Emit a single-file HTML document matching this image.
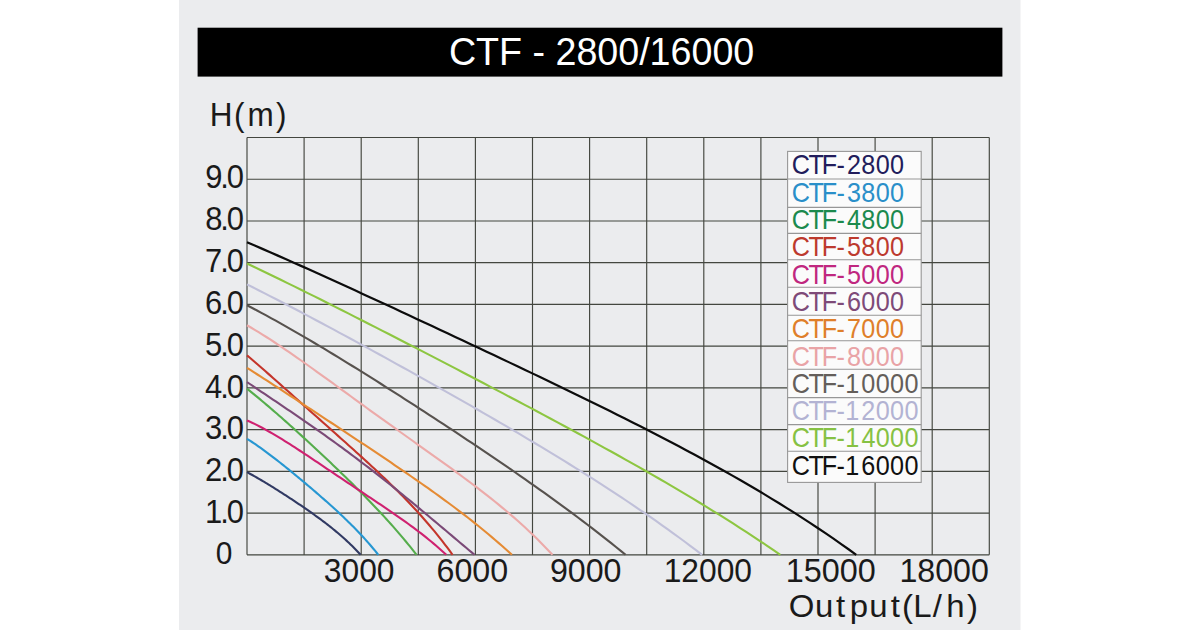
<!DOCTYPE html>
<html><head><meta charset="utf-8"><title>CTF - 2800/16000</title>
<style>
html,body{margin:0;padding:0;background:#fff;}
body{width:1200px;height:630px;overflow:hidden;}
svg{display:block;}
text{font-family:"Liberation Sans",Arial,sans-serif;}
</style></head>
<body>
<svg width="1200" height="630" viewBox="0 0 1200 630">
<rect x="0" y="0" width="1200" height="630" fill="#ffffff"/>
<rect x="179" y="0" width="841.5" height="630" fill="#ebecee"/>
<rect x="197.6" y="27.7" width="804.8" height="48.9" fill="#000000"/>
<text x="448.89" y="65.00" font-size="38.50" fill="#ffffff" textLength="305.38" lengthAdjust="spacingAndGlyphs">CTF - 2800/16000</text>
<text x="216.25 241.33 255.12 284.55" y="126.30" font-size="32.50" fill="#1a1a1a" transform="scale(0.9700,1)">H(m)</text>
<text x="765.81 791.29 811.76 825.09 843.89 864.80 875.81 886.63 905.70 918.75 938.87" y="617.30" font-size="32.00" fill="#1a1a1a" transform="scale(1.0300,1)">Output(L/h)</text>
<text x="215.94 231.73 238.78" y="188.40" font-size="32.60" fill="#1a1a1a" transform="scale(0.9500,1)">9.0</text>
<text x="216.09 231.73 238.78" y="230.00" font-size="32.60" fill="#1a1a1a" transform="scale(0.9500,1)">8.0</text>
<text x="215.87 231.73 238.78" y="272.30" font-size="32.60" fill="#1a1a1a" transform="scale(0.9500,1)">7.0</text>
<text x="215.77 231.73 238.78" y="314.20" font-size="32.60" fill="#1a1a1a" transform="scale(0.9500,1)">6.0</text>
<text x="215.91 231.73 238.78" y="355.80" font-size="32.60" fill="#1a1a1a" transform="scale(0.9500,1)">5.0</text>
<text x="215.83 231.73 238.78" y="397.90" font-size="32.60" fill="#1a1a1a" transform="scale(0.9500,1)">4.0</text>
<text x="215.82 231.73 238.78" y="438.80" font-size="32.60" fill="#1a1a1a" transform="scale(0.9500,1)">3.0</text>
<text x="215.88 231.73 238.78" y="480.90" font-size="32.60" fill="#1a1a1a" transform="scale(0.9500,1)">2.0</text>
<text x="215.91 231.73 238.78" y="522.80" font-size="32.60" fill="#1a1a1a" transform="scale(0.9500,1)">1.0</text>
<text x="227.03" y="564.50" font-size="31.50" fill="#1a1a1a" transform="scale(0.9500,1)">0</text>
<text x="323.79" y="581.80" font-size="32.60" fill="#1a1a1a" textLength="70.75" lengthAdjust="spacingAndGlyphs">3000</text>
<text x="436.46" y="581.80" font-size="32.60" fill="#1a1a1a" textLength="71.70" lengthAdjust="spacingAndGlyphs">6000</text>
<text x="549.89" y="581.80" font-size="32.60" fill="#1a1a1a" textLength="71.67" lengthAdjust="spacingAndGlyphs">9000</text>
<text x="663.68" y="581.80" font-size="32.60" fill="#1a1a1a" textLength="88.36" lengthAdjust="spacingAndGlyphs">12000</text>
<text x="785.73" y="581.80" font-size="32.60" fill="#1a1a1a" textLength="90.03" lengthAdjust="spacingAndGlyphs">15000</text>
<text x="899.45" y="581.80" font-size="32.60" fill="#1a1a1a" textLength="89.40" lengthAdjust="spacingAndGlyphs">18000</text>
<path d="M247.00 137.50V554.80M304.10 137.50V554.80M361.20 137.50V554.80M418.30 137.50V554.80M475.40 137.50V554.80M532.50 137.50V554.80M589.60 137.50V554.80M646.70 137.50V554.80M703.80 137.50V554.80M760.90 137.50V554.80M818.00 137.50V554.80M875.10 137.50V554.80M932.20 137.50V554.80M989.30 137.50V554.80M247.00 554.80H989.30M247.00 513.07H989.30M247.00 471.34H989.30M247.00 429.61H989.30M247.00 387.88H989.30M247.00 346.15H989.30M247.00 304.42H989.30M247.00 262.69H989.30M247.00 220.96H989.30M247.00 179.23H989.30M247.00 137.50H989.30" stroke="#43463f" stroke-width="1.15" fill="none"/>
<path d="M247.00 472.17 L248.44 472.94 L249.88 473.71 L251.32 474.50 L252.75 475.29 L254.19 476.09 L255.63 476.91 L257.07 477.73 L258.51 478.56 L259.95 479.40 L261.38 480.24 L262.82 481.10 L264.26 481.95 L265.70 482.82 L267.14 483.69 L268.58 484.57 L270.01 485.45 L271.45 486.34 L272.89 487.23 L274.33 488.13 L275.77 489.03 L277.21 489.94 L278.64 490.85 L280.08 491.77 L281.52 492.68 L282.96 493.61 L284.40 494.53 L285.84 495.47 L287.27 496.40 L288.71 497.34 L290.15 498.28 L291.59 499.23 L293.03 500.18 L294.47 501.13 L295.90 502.09 L297.34 503.05 L298.78 504.02 L300.22 504.99 L301.66 505.97 L303.10 506.95 L304.53 507.93 L305.97 508.92 L307.41 509.92 L308.85 510.92 L310.29 511.93 L311.73 512.94 L313.16 513.96 L314.60 514.99 L316.04 516.03 L317.48 517.07 L318.92 518.12 L320.36 519.18 L321.79 520.25 L323.23 521.33 L324.67 522.42 L326.11 523.52 L327.55 524.63 L328.99 525.76 L330.42 526.89 L331.86 528.04 L333.30 529.20 L334.74 530.38 L336.18 531.57 L337.62 532.77 L339.05 533.99 L340.49 535.23 L341.93 536.49 L343.37 537.76 L344.81 539.06 L346.25 540.37 L347.68 541.71 L349.12 543.06 L350.56 544.44 L352.00 545.85 L353.44 547.27 L354.88 548.72 L356.31 550.20 L357.75 551.71 L359.19 553.24 L360.63 554.80" stroke="#313a63" stroke-width="2.1" fill="none" stroke-linejoin="round"/>
<path d="M247.00 438.79 L248.66 439.84 L250.32 440.91 L251.99 442.00 L253.65 443.11 L255.31 444.24 L256.97 445.38 L258.64 446.54 L260.30 447.72 L261.96 448.91 L263.62 450.11 L265.29 451.33 L266.95 452.56 L268.61 453.81 L270.27 455.06 L271.94 456.32 L273.60 457.60 L275.26 458.88 L276.92 460.18 L278.59 461.48 L280.25 462.79 L281.91 464.11 L283.57 465.43 L285.24 466.76 L286.90 468.10 L288.56 469.44 L290.22 470.79 L291.88 472.15 L293.55 473.51 L295.21 474.88 L296.87 476.25 L298.53 477.63 L300.20 479.01 L301.86 480.39 L303.52 481.79 L305.18 483.18 L306.85 484.58 L308.51 485.99 L310.17 487.40 L311.83 488.82 L313.50 490.24 L315.16 491.66 L316.82 493.10 L318.48 494.54 L320.15 495.98 L321.81 497.43 L323.47 498.89 L325.13 500.35 L326.80 501.83 L328.46 503.31 L330.12 504.80 L331.78 506.30 L333.45 507.80 L335.11 509.32 L336.77 510.85 L338.43 512.39 L340.09 513.94 L341.76 515.50 L343.42 517.08 L345.08 518.67 L346.74 520.28 L348.41 521.90 L350.07 523.53 L351.73 525.19 L353.39 526.86 L355.06 528.55 L356.72 530.26 L358.38 532.00 L360.04 533.75 L361.71 535.53 L363.37 537.33 L365.03 539.15 L366.69 541.00 L368.36 542.88 L370.02 544.79 L371.68 546.73 L373.34 548.70 L375.01 550.70 L376.67 552.73 L378.33 554.80" stroke="#2797d2" stroke-width="2.1" fill="none" stroke-linejoin="round"/>
<path d="M247.00 388.71 L249.15 390.42 L251.29 392.14 L253.44 393.87 L255.59 395.62 L257.73 397.39 L259.88 399.16 L262.03 400.96 L264.17 402.76 L266.32 404.58 L268.47 406.40 L270.61 408.24 L272.76 410.09 L274.91 411.95 L277.05 413.82 L279.20 415.70 L281.35 417.58 L283.49 419.48 L285.64 421.38 L287.79 423.29 L289.93 425.21 L292.08 427.14 L294.23 429.07 L296.37 431.01 L298.52 432.95 L300.67 434.90 L302.81 436.86 L304.96 438.83 L307.11 440.79 L309.25 442.77 L311.40 444.75 L313.55 446.74 L315.69 448.73 L317.84 450.73 L319.99 452.73 L322.13 454.74 L324.28 456.76 L326.43 458.78 L328.57 460.81 L330.72 462.85 L332.87 464.89 L335.01 466.94 L337.16 468.99 L339.31 471.06 L341.45 473.13 L343.60 475.21 L345.75 477.30 L347.89 479.39 L350.04 481.50 L352.19 483.62 L354.33 485.74 L356.48 487.88 L358.63 490.03 L360.77 492.19 L362.92 494.36 L365.07 496.54 L367.21 498.74 L369.36 500.95 L371.51 503.18 L373.65 505.42 L375.80 507.68 L377.95 509.96 L380.09 512.25 L382.24 514.56 L384.39 516.89 L386.53 519.24 L388.68 521.61 L390.83 524.01 L392.97 526.42 L395.12 528.86 L397.27 531.33 L399.41 533.82 L401.56 536.34 L403.71 538.88 L405.85 541.46 L408.00 544.06 L410.15 546.70 L412.29 549.36 L414.44 552.06 L416.59 554.80" stroke="#55ad4c" stroke-width="2.1" fill="none" stroke-linejoin="round"/>
<path d="M247.00 420.43 L249.52 421.55 L252.05 422.71 L254.57 423.92 L257.09 425.17 L259.61 426.46 L262.14 427.79 L264.66 429.15 L267.18 430.55 L269.70 431.97 L272.23 433.42 L274.75 434.90 L277.27 436.40 L279.79 437.93 L282.32 439.47 L284.84 441.04 L287.36 442.62 L289.88 444.22 L292.41 445.83 L294.93 447.46 L297.45 449.10 L299.97 450.75 L302.50 452.40 L305.02 454.07 L307.54 455.74 L310.06 457.42 L312.59 459.10 L315.11 460.79 L317.63 462.48 L320.15 464.17 L322.68 465.86 L325.20 467.56 L327.72 469.26 L330.24 470.95 L332.77 472.65 L335.29 474.34 L337.81 476.04 L340.33 477.73 L342.86 479.42 L345.38 481.11 L347.90 482.80 L350.42 484.48 L352.95 486.17 L355.47 487.85 L357.99 489.54 L360.51 491.22 L363.04 492.90 L365.56 494.59 L368.08 496.27 L370.60 497.96 L373.13 499.64 L375.65 501.33 L378.17 503.03 L380.69 504.72 L383.22 506.43 L385.74 508.14 L388.26 509.85 L390.78 511.58 L393.31 513.31 L395.83 515.06 L398.35 516.82 L400.87 518.59 L403.40 520.38 L405.92 522.18 L408.44 524.00 L410.96 525.84 L413.49 527.71 L416.01 529.59 L418.53 531.51 L421.05 533.45 L423.58 535.41 L426.10 537.41 L428.62 539.45 L431.14 541.51 L433.67 543.62 L436.19 545.77 L438.71 547.95 L441.23 550.19 L443.76 552.47 L446.28 554.80" stroke="#cf2170" stroke-width="2.1" fill="none" stroke-linejoin="round"/>
<path d="M247.00 355.33 L249.60 357.55 L252.20 359.77 L254.81 362.02 L257.41 364.27 L260.01 366.53 L262.61 368.80 L265.21 371.08 L267.82 373.37 L270.42 375.66 L273.02 377.96 L275.62 380.26 L278.22 382.57 L280.83 384.88 L283.43 387.19 L286.03 389.50 L288.63 391.82 L291.23 394.14 L293.84 396.46 L296.44 398.78 L299.04 401.10 L301.64 403.42 L304.24 405.74 L306.85 408.06 L309.45 410.38 L312.05 412.69 L314.65 415.01 L317.25 417.33 L319.86 419.64 L322.46 421.96 L325.06 424.27 L327.66 426.59 L330.26 428.90 L332.87 431.22 L335.47 433.54 L338.07 435.86 L340.67 438.18 L343.27 440.50 L345.88 442.83 L348.48 445.16 L351.08 447.49 L353.68 449.83 L356.29 452.17 L358.89 454.53 L361.49 456.89 L364.09 459.25 L366.69 461.63 L369.30 464.02 L371.90 466.42 L374.50 468.83 L377.10 471.26 L379.70 473.70 L382.31 476.16 L384.91 478.63 L387.51 481.13 L390.11 483.64 L392.71 486.18 L395.32 488.74 L397.92 491.33 L400.52 493.94 L403.12 496.59 L405.72 499.26 L408.33 501.96 L410.93 504.70 L413.53 507.47 L416.13 510.28 L418.73 513.14 L421.34 516.03 L423.94 518.97 L426.54 521.95 L429.14 524.98 L431.74 528.06 L434.35 531.19 L436.95 534.38 L439.55 537.63 L442.15 540.93 L444.75 544.30 L447.36 547.73 L449.96 551.23 L452.56 554.80" stroke="#c4352b" stroke-width="2.1" fill="none" stroke-linejoin="round"/>
<path d="M247.00 382.04 L249.88 384.00 L252.76 385.95 L255.64 387.90 L258.52 389.85 L261.40 391.79 L264.28 393.73 L267.16 395.67 L270.04 397.61 L272.92 399.55 L275.80 401.49 L278.68 403.44 L281.56 405.38 L284.44 407.33 L287.32 409.28 L290.20 411.24 L293.08 413.20 L295.97 415.16 L298.85 417.14 L301.73 419.11 L304.61 421.10 L307.49 423.09 L310.37 425.09 L313.25 427.10 L316.13 429.12 L319.01 431.15 L321.89 433.18 L324.77 435.23 L327.65 437.28 L330.53 439.35 L333.41 441.42 L336.29 443.51 L339.17 445.61 L342.05 447.71 L344.93 449.83 L347.81 451.96 L350.69 454.11 L353.57 456.26 L356.45 458.42 L359.33 460.60 L362.21 462.79 L365.09 464.99 L367.97 467.20 L370.85 469.42 L373.73 471.66 L376.61 473.91 L379.49 476.16 L382.37 478.43 L385.25 480.71 L388.13 483.00 L391.01 485.30 L393.90 487.61 L396.78 489.93 L399.66 492.26 L402.54 494.60 L405.42 496.95 L408.30 499.31 L411.18 501.68 L414.06 504.05 L416.94 506.43 L419.82 508.82 L422.70 511.22 L425.58 513.62 L428.46 516.03 L431.34 518.44 L434.22 520.86 L437.10 523.28 L439.98 525.70 L442.86 528.13 L445.74 530.56 L448.62 532.99 L451.50 535.42 L454.38 537.85 L457.26 540.28 L460.14 542.71 L463.02 545.14 L465.90 547.56 L468.78 549.98 L471.66 552.39 L474.54 554.80" stroke="#7b4a77" stroke-width="2.1" fill="none" stroke-linejoin="round"/>
<path d="M247.00 367.85 L250.35 369.98 L253.71 372.11 L257.06 374.25 L260.41 376.40 L263.77 378.56 L267.12 380.72 L270.48 382.89 L273.83 385.06 L277.18 387.24 L280.54 389.43 L283.89 391.61 L287.24 393.81 L290.60 396.00 L293.95 398.20 L297.31 400.40 L300.66 402.60 L304.01 404.81 L307.37 407.01 L310.72 409.22 L314.07 411.43 L317.43 413.64 L320.78 415.86 L324.14 418.07 L327.49 420.29 L330.84 422.50 L334.20 424.72 L337.55 426.94 L340.90 429.16 L344.26 431.38 L347.61 433.60 L350.97 435.83 L354.32 438.05 L357.67 440.28 L361.03 442.51 L364.38 444.74 L367.73 446.98 L371.09 449.22 L374.44 451.46 L377.80 453.70 L381.15 455.96 L384.50 458.21 L387.86 460.47 L391.21 462.74 L394.56 465.01 L397.92 467.29 L401.27 469.57 L404.62 471.87 L407.98 474.17 L411.33 476.49 L414.69 478.81 L418.04 481.14 L421.39 483.49 L424.75 485.84 L428.10 488.22 L431.45 490.60 L434.81 493.00 L438.16 495.42 L441.52 497.85 L444.87 500.30 L448.22 502.77 L451.58 505.26 L454.93 507.77 L458.28 510.30 L461.64 512.85 L464.99 515.43 L468.35 518.04 L471.70 520.67 L475.05 523.33 L478.41 526.01 L481.76 528.73 L485.11 531.48 L488.47 534.27 L491.82 537.08 L495.18 539.94 L498.53 542.83 L501.88 545.76 L505.24 548.73 L508.59 551.74 L511.94 554.80" stroke="#e58b34" stroke-width="2.1" fill="none" stroke-linejoin="round"/>
<path d="M247.00 325.28 L250.87 327.52 L254.73 329.81 L258.60 332.16 L262.47 334.55 L266.33 336.99 L270.20 339.48 L274.07 342.00 L277.94 344.56 L281.80 347.15 L285.67 349.77 L289.54 352.42 L293.40 355.09 L297.27 357.79 L301.14 360.50 L305.00 363.24 L308.87 365.99 L312.74 368.75 L316.60 371.53 L320.47 374.31 L324.34 377.11 L328.20 379.91 L332.07 382.71 L335.94 385.52 L339.81 388.33 L343.67 391.15 L347.54 393.96 L351.41 396.77 L355.27 399.58 L359.14 402.39 L363.01 405.19 L366.87 407.99 L370.74 410.79 L374.61 413.58 L378.47 416.37 L382.34 419.15 L386.21 421.93 L390.08 424.70 L393.94 427.47 L397.81 430.24 L401.68 433.00 L405.54 435.76 L409.41 438.51 L413.28 441.27 L417.14 444.02 L421.01 446.78 L424.88 449.53 L428.74 452.29 L432.61 455.05 L436.48 457.82 L440.34 460.59 L444.21 463.38 L448.08 466.17 L451.95 468.97 L455.81 471.79 L459.68 474.63 L463.55 477.48 L467.41 480.35 L471.28 483.25 L475.15 486.17 L479.01 489.12 L482.88 492.10 L486.75 495.12 L490.61 498.17 L494.48 501.26 L498.35 504.39 L502.22 507.57 L506.08 510.80 L509.95 514.09 L513.82 517.42 L517.68 520.82 L521.55 524.29 L525.42 527.82 L529.28 531.42 L533.15 535.10 L537.02 538.86 L540.88 542.71 L544.75 546.64 L548.62 550.67 L552.49 554.80" stroke="#ecaaa9" stroke-width="2.1" fill="none" stroke-linejoin="round"/>
<path d="M247.00 305.25 L251.79 307.75 L256.58 310.28 L261.38 312.84 L266.17 315.43 L270.96 318.05 L275.75 320.70 L280.54 323.37 L285.34 326.07 L290.13 328.80 L294.92 331.55 L299.71 334.32 L304.50 337.11 L309.30 339.92 L314.09 342.75 L318.88 345.61 L323.67 348.47 L328.47 351.36 L333.26 354.26 L338.05 357.18 L342.84 360.11 L347.63 363.05 L352.43 366.01 L357.22 368.98 L362.01 371.97 L366.80 374.96 L371.59 377.97 L376.39 380.98 L381.18 384.01 L385.97 387.05 L390.76 390.09 L395.55 393.15 L400.35 396.21 L405.14 399.29 L409.93 402.37 L414.72 405.46 L419.51 408.56 L424.31 411.67 L429.10 414.78 L433.89 417.91 L438.68 421.04 L443.47 424.18 L448.27 427.33 L453.06 430.49 L457.85 433.66 L462.64 436.83 L467.43 440.02 L472.23 443.22 L477.02 446.42 L481.81 449.64 L486.60 452.87 L491.40 456.11 L496.19 459.36 L500.98 462.63 L505.77 465.91 L510.56 469.20 L515.36 472.51 L520.15 475.83 L524.94 479.17 L529.73 482.53 L534.52 485.90 L539.32 489.30 L544.11 492.71 L548.90 496.14 L553.69 499.60 L558.48 503.07 L563.28 506.57 L568.07 510.10 L572.86 513.65 L577.65 517.23 L582.44 520.84 L587.24 524.48 L592.03 528.14 L596.82 531.84 L601.61 535.58 L606.40 539.34 L611.20 543.15 L615.99 546.99 L620.78 550.87 L625.57 554.80" stroke="#57524e" stroke-width="2.1" fill="none" stroke-linejoin="round"/>
<path d="M247.00 284.39 L252.76 287.28 L258.52 290.20 L264.28 293.13 L270.04 296.08 L275.80 299.04 L281.56 302.02 L287.32 305.02 L293.08 308.03 L298.85 311.05 L304.61 314.09 L310.37 317.14 L316.13 320.20 L321.89 323.27 L327.65 326.35 L333.41 329.45 L339.17 332.55 L344.93 335.66 L350.69 338.78 L356.45 341.91 L362.21 345.05 L367.97 348.20 L373.73 351.35 L379.49 354.51 L385.25 357.68 L391.01 360.86 L396.78 364.05 L402.54 367.24 L408.30 370.44 L414.06 373.65 L419.82 376.87 L425.58 380.09 L431.34 383.32 L437.10 386.56 L442.86 389.81 L448.62 393.07 L454.38 396.34 L460.14 399.61 L465.90 402.90 L471.66 406.19 L477.42 409.50 L483.18 412.81 L488.94 416.14 L494.71 419.48 L500.47 422.83 L506.23 426.19 L511.99 429.57 L517.75 432.96 L523.51 436.37 L529.27 439.79 L535.03 443.23 L540.79 446.69 L546.55 450.16 L552.31 453.65 L558.07 457.17 L563.83 460.70 L569.59 464.26 L575.35 467.84 L581.11 471.44 L586.88 475.06 L592.64 478.72 L598.40 482.40 L604.16 486.11 L609.92 489.84 L615.68 493.61 L621.44 497.41 L627.20 501.25 L632.96 505.12 L638.72 509.02 L644.48 512.97 L650.24 516.95 L656.00 520.97 L661.76 525.03 L667.52 529.14 L673.28 533.30 L679.04 537.50 L684.81 541.75 L690.57 546.04 L696.33 550.40 L702.09 554.80" stroke="#c0c0d9" stroke-width="2.1" fill="none" stroke-linejoin="round"/>
<path d="M247.00 263.52 L253.75 266.73 L260.50 269.97 L267.25 273.22 L274.00 276.48 L280.75 279.77 L287.50 283.07 L294.26 286.39 L301.01 289.73 L307.76 293.07 L314.51 296.43 L321.26 299.81 L328.01 303.19 L334.76 306.59 L341.51 309.99 L348.26 313.40 L355.01 316.83 L361.76 320.26 L368.51 323.70 L375.27 327.14 L382.02 330.59 L388.77 334.05 L395.52 337.52 L402.27 340.99 L409.02 344.46 L415.77 347.94 L422.52 351.43 L429.27 354.92 L436.02 358.42 L442.77 361.92 L449.52 365.43 L456.28 368.94 L463.03 372.45 L469.78 375.97 L476.53 379.50 L483.28 383.03 L490.03 386.57 L496.78 390.11 L503.53 393.66 L510.28 397.22 L517.03 400.79 L523.78 404.36 L530.53 407.94 L537.28 411.53 L544.04 415.13 L550.79 418.73 L557.54 422.35 L564.29 425.98 L571.04 429.63 L577.79 433.28 L584.54 436.95 L591.29 440.64 L598.04 444.34 L604.79 448.05 L611.54 451.79 L618.29 455.54 L625.05 459.32 L631.80 463.11 L638.55 466.93 L645.30 470.77 L652.05 474.63 L658.80 478.52 L665.55 482.44 L672.30 486.39 L679.05 490.37 L685.80 494.38 L692.55 498.42 L699.30 502.50 L706.06 506.61 L712.81 510.77 L719.56 514.96 L726.31 519.19 L733.06 523.47 L739.81 527.79 L746.56 532.16 L753.31 536.58 L760.06 541.05 L766.81 545.58 L773.56 550.16 L780.31 554.80" stroke="#8dc641" stroke-width="2.1" fill="none" stroke-linejoin="round"/>
<path d="M247.00 242.24 L254.71 245.55 L262.42 248.88 L270.14 252.24 L277.85 255.62 L285.56 259.02 L293.27 262.44 L300.98 265.87 L308.70 269.33 L316.41 272.80 L324.12 276.28 L331.83 279.78 L339.55 283.29 L347.26 286.81 L354.97 290.34 L362.68 293.88 L370.39 297.43 L378.11 300.99 L385.82 304.55 L393.53 308.12 L401.24 311.70 L408.95 315.29 L416.67 318.88 L424.38 322.47 L432.09 326.07 L439.80 329.68 L447.51 333.29 L455.23 336.91 L462.94 340.53 L470.65 344.15 L478.36 347.78 L486.08 351.42 L493.79 355.06 L501.50 358.71 L509.21 362.37 L516.92 366.03 L524.64 369.70 L532.35 373.38 L540.06 377.07 L547.77 380.77 L555.48 384.48 L563.20 388.20 L570.91 391.94 L578.62 395.69 L586.33 399.45 L594.05 403.23 L601.76 407.03 L609.47 410.85 L617.18 414.69 L624.89 418.55 L632.61 422.43 L640.32 426.34 L648.03 430.28 L655.74 434.24 L663.45 438.24 L671.17 442.27 L678.88 446.33 L686.59 450.43 L694.30 454.56 L702.01 458.74 L709.73 462.96 L717.44 467.23 L725.15 471.54 L732.86 475.91 L740.58 480.32 L748.29 484.79 L756.00 489.32 L763.71 493.91 L771.42 498.57 L779.14 503.28 L786.85 508.07 L794.56 512.93 L802.27 517.87 L809.98 522.88 L817.70 527.98 L825.41 533.16 L833.12 538.43 L840.83 543.79 L848.54 549.24 L856.26 554.80" stroke="#0c0c0c" stroke-width="2.2" fill="none" stroke-linejoin="round"/>
<rect x="787.6" y="151.4" width="133.60" height="331.00" fill="#fbfbfb" stroke="#979797" stroke-width="1.1"/>
<path d="M787.6 179.05H921.2M787.6 207.4H921.2M787.6 233.4H921.2M787.6 259.7H921.2M787.6 287.2H921.2M787.6 315.2H921.2M787.6 340.8H921.2M787.6 369.3H921.2M787.6 397.6H921.2M787.6 424.6H921.2M787.6 451.3H921.2" stroke="#979797" stroke-width="1.1" fill="none"/>
<text x="879.60 898.40 913.03 929.56 941.10 957.05 972.99 988.94" y="174.50" font-size="28.00" fill="#221d5c" transform="scale(0.9000,1)">CTF-2800</text>
<text x="879.60 898.40 913.03 929.56 941.18 957.05 972.99 988.94" y="201.79" font-size="28.00" fill="#2a8fc9" transform="scale(0.9000,1)">CTF-3800</text>
<text x="879.60 898.40 913.03 929.56 941.19 957.05 972.99 988.94" y="229.08" font-size="28.00" fill="#1c8a4e" transform="scale(0.9000,1)">CTF-4800</text>
<text x="879.60 898.40 913.03 929.56 941.13 957.05 972.99 988.94" y="256.37" font-size="28.00" fill="#bd3a2e" transform="scale(0.9000,1)">CTF-5800</text>
<text x="879.60 898.40 913.03 929.56 941.13 957.05 972.99 988.94" y="283.66" font-size="28.00" fill="#c0277f" transform="scale(0.9000,1)">CTF-5000</text>
<text x="879.60 898.40 913.03 929.56 941.01 957.05 972.99 988.94" y="310.95" font-size="28.00" fill="#7e4a78" transform="scale(0.9000,1)">CTF-6000</text>
<text x="879.60 898.40 913.03 929.56 941.09 957.05 972.99 988.94" y="338.24" font-size="28.00" fill="#df7f2a" transform="scale(0.9000,1)">CTF-7000</text>
<text x="879.60 898.40 913.03 929.56 941.10 957.05 972.99 988.94" y="365.53" font-size="28.00" fill="#e9a3a6" transform="scale(0.9000,1)">CTF-8000</text>
<text x="879.60 898.40 913.03 929.56 939.16 957.05 972.99 988.94 1004.88" y="392.82" font-size="28.00" fill="#645e5a" transform="scale(0.9000,1)">CTF-10000</text>
<text x="879.60 898.40 913.03 929.56 939.16 957.05 972.99 988.94 1004.88" y="420.11" font-size="28.00" fill="#b3b3d3" transform="scale(0.9000,1)">CTF-12000</text>
<text x="879.60 898.40 913.03 929.56 939.16 957.14 972.99 988.94 1004.88" y="447.40" font-size="28.00" fill="#86c143" transform="scale(0.9000,1)">CTF-14000</text>
<text x="879.60 898.40 913.03 929.56 939.16 956.95 972.99 988.94 1004.88" y="474.69" font-size="28.00" fill="#111111" transform="scale(0.9000,1)">CTF-16000</text>
</svg>
</body></html>
